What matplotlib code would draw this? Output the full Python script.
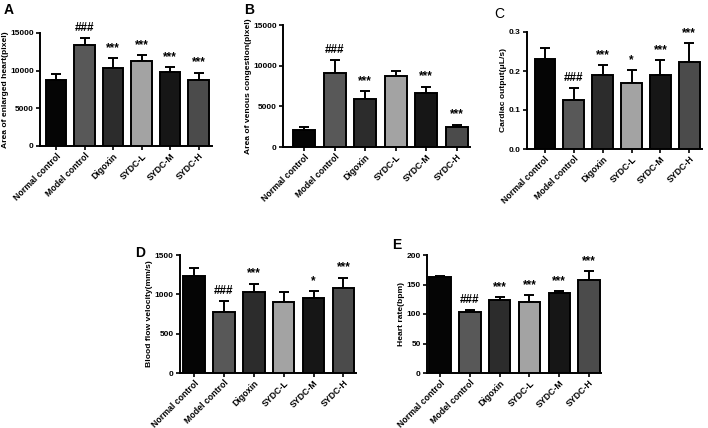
import numpy as np
import matplotlib
matplotlib.use("Agg")
import matplotlib.pyplot as plt
from matplotlib import font_manager

plt.rcParams['font.family'] = ['Liberation Sans', 'DejaVu Sans']
plt.rcParams['font.weight'] = 'bold'

names = {f.name for f in font_manager.fontManager.ttflist}
label_family = ['Liberation Sans Narrow', 'Liberation Sans'] if 'Liberation Sans Narrow' in names else ['Liberation Sans']

#%% Data
groups = ["Normal control", "Model control", "Digoxin", "SYDC-L", "SYDC-M", "SYDC-H"]
bar_colors = ["#050505", "#585858", "#2c2c2c", "#a3a3a3", "#161616", "#4b4b4b"]

heart_area = [8750, 13400, 10300, 11300, 9800, 8750]
heart_area_sd = [850, 900, 1400, 800, 700, 1000]
heart_area_sig = ["", "###", "***", "***", "***", "***"]

venous_area = [2100, 9100, 5850, 8700, 6700, 2400]
venous_area_sd = [400, 1600, 1000, 650, 700, 350]
venous_area_sig = ["", "###", "***", "", "***", "***"]

cardiac_output = [0.231, 0.125, 0.190, 0.168, 0.190, 0.224]
cardiac_output_sd = [0.029, 0.031, 0.025, 0.035, 0.037, 0.048]
cardiac_output_sig = ["", "###", "***", "*", "***", "***"]

blood_flow = [1232, 778, 1033, 905, 956, 1084]
blood_flow_sd = [102, 136, 102, 119, 85, 127]
blood_flow_sig = ["", "###", "***", "", "*", "***"]

heart_rate = [163, 103, 123, 121, 135, 158]
heart_rate_sd = [2, 3, 6, 11, 4, 15]
heart_rate_sig = ["", "###", "***", "***", "***", "***"]

#%% Layout (pixel boxes: left, right, top, bottom) in a 708x428 figure
W, H = 708, 428
panels = [
    dict(letter="A", box=(40, 212, 33, 146), xlim=(-0.57, 5.47),
         vals=heart_area, sd=heart_area_sd, sig=heart_area_sig,
         ylabel="Area of enlarged heart(pixel)", yticks=[0, 5000, 10000, 15000],
         fmt="{:.0f}", lpos=(4, 3), lweight="bold"),
    dict(letter="B", box=(283, 470, 25, 147), xlim=(-0.69, 5.44),
         vals=venous_area, sd=venous_area_sd, sig=venous_area_sig,
         ylabel="Area of venous congestion(pixel)", yticks=[0, 5000, 10000, 15000],
         fmt="{:.0f}", lpos=(244, 3), lweight="bold"),
    dict(letter="C", box=(527, 702, 32, 149), xlim=(-0.62, 5.44),
         vals=cardiac_output, sd=cardiac_output_sd, sig=cardiac_output_sig,
         ylabel="Cardiac output(\u03bcL/s)", yticks=[0.0, 0.1, 0.2, 0.3],
         fmt="{:.1f}", lpos=(494, 7), lweight="normal"),
    dict(letter="D", box=(180, 356, 255, 373), xlim=(-0.47, 5.42),
         vals=blood_flow, sd=blood_flow_sd, sig=blood_flow_sig,
         ylabel="Blood flow velocity(mm/s)", yticks=[0, 500, 1000, 1500],
         fmt="{:.0f}", lpos=(135, 246), lweight="bold"),
    dict(letter="E", box=(427, 601, 255, 373), xlim=(-0.44, 5.40),
         vals=heart_rate, sd=heart_rate_sd, sig=heart_rate_sig,
         ylabel="Heart rate(bpm)", yticks=[0, 50, 100, 150, 200],
         fmt="{:.0f}", lpos=(392, 238), lweight="bold"),
]

fig = plt.figure(figsize=(W / 100, H / 100), dpi=100)

for p in panels:
    l, r, t, b = p["box"]
    ax = fig.add_axes([l / W, 1 - b / H, (r - l) / W, (b - t) / H])
    x = np.arange(len(groups))
    ax.bar(x, p["vals"], width=0.72, color=bar_colors, edgecolor="black",
           linewidth=1.4, zorder=3)
    ax.errorbar(x, p["vals"], yerr=[np.zeros(len(groups)), p["sd"]], fmt="none",
                ecolor="black", elinewidth=1.4, capsize=3.5, capthick=1.4, zorder=2)
    for xi, v, s, txt in zip(x, p["vals"], p["sd"], p["sig"]):
        if txt:
            ax.annotate(txt, (xi, v + s), xytext=(0, 3), textcoords="offset points",
                        ha="center", va="bottom", fontsize=8.5, fontweight="bold")
    ax.set_xlim(*p["xlim"])
    ax.set_ylim(p["yticks"][0], p["yticks"][-1])
    ax.set_yticks(p["yticks"])
    ax.set_yticklabels([p["fmt"].format(v) for v in p["yticks"]])
    ax.set_xticks(x)
    ax.set_xticklabels(groups, rotation=45, ha="right", rotation_mode="anchor")
    ax.tick_params(axis="y", labelsize=6.0, width=1.2, length=3, pad=1.5)
    ax.tick_params(axis="x", labelsize=6.3, width=1.2, length=3, pad=1)
    ax.set_ylabel(p["ylabel"], fontsize=6.1, fontweight="bold", labelpad=1,
                  family=label_family)
    for side in ("top", "right"):
        ax.spines[side].set_visible(False)
    for side in ("left", "bottom"):
        ax.spines[side].set_linewidth(1.4)
    fig.text(p["lpos"][0] / W, 1 - p["lpos"][1] / H, p["letter"], fontsize=10,
             fontweight=p["lweight"], va="top", ha="left")

plt.savefig("out.png", dpi=100)
